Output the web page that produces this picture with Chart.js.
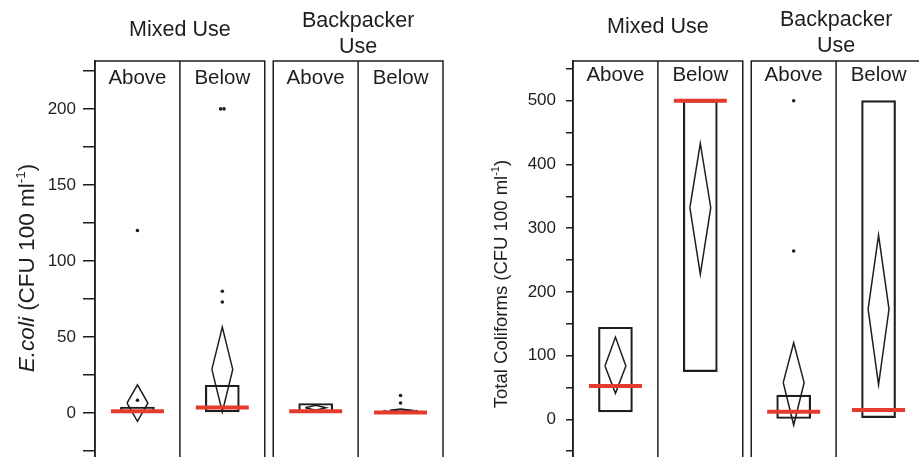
<!DOCTYPE html>
<html>
<head>
<meta charset="utf-8">
<script src="https://cdn.jsdelivr.net/npm/chart.js@4.4.1/dist/chart.umd.min.js"></script>
<style>
    html, body { margin: 0; padding: 0; background: #fff; overflow: hidden; width: 919px; height: 457px; }
    .wrap { position: absolute; top: 0; height: 457px; }
</style>
</head>
<body>
<div class="wrap" style="left:0;width:460px"><canvas id="ecoliChart"></canvas></div>
<div class="wrap" style="left:460px;width:461px"><canvas id="coliformChart"></canvas></div>
<script>
var groupLabels = [["Mixed Use"], ["Backpacker", "Use"]];
var sites = ["Above", "Below", "Above", "Below"];

// E. coli (CFU 100 ml-1)
var ecoliQ1 = [0, 0.7, 0, 1.5];
var ecoliQ3 = [3.9, 18.2, 6.2, 1.8];
var ecoliMedian = [1.1, 3.5, 1.1, 0.3];
var ecoliMean = [6.5, 28.6, 3.4, 1.8];
var ecoliLower = [-5.5, 0.7, 1.7, 0.9];
var ecoliUpper = [18.5, 56.5, 5.1, 2.6];
var ecoliOutliers = [[120, 8.3], [200, 200, 80, 73], [], [11.5, 6.5]];

// Total coliforms (CFU 100 ml-1)
var tcQ1 = [11.5, 74.7, 0, 2.5];
var tcQ3 = [144.4, 500, 38, 500];
var tcMedian = [52.3, 500, 12, 14.6];
var tcMean = [83.7, 332, 57.5, 173];
var tcLower = [40.8, 227.6, -9, 54];
var tcUpper = [129, 433, 120, 289];
var tcOutliers = [[], [], [500, 264], []];

var INK = '#1e1e1e';
var RED = '#e53b2c';
var FONT = '"Liberation Sans", Arial, Helvetica, sans-serif';
var GAP = 0.1;          // space between the two site groups, in slot units
var DIAMOND_HW = 0.123; // diamond half width, in slot units

function slotLeft(i) { return i + (i >= 2 ? GAP : 0); }
function slotCenter(i) { return slotLeft(i) + 0.5; }

function outlierPoints(lists) {
    var pts = [];
    lists.forEach(function(vals, i) {
        vals.forEach(function(v, j) {
            var dup = vals.filter(function(w) { return w === v; }).length;
            var k = vals.slice(0, j).filter(function(w) { return w === v; }).length;
            var off = dup > 1 ? (k - (dup - 1) / 2) * 0.04 : 0;
            pts.push({x: slotCenter(i) + off, y: v});
        });
    });
    return pts;
}

function drawYTitle(ctx, parts, cx, cy, size) {
    ctx.save();
    ctx.translate(cx, cy);
    ctx.rotate(-Math.PI / 2);
    var fonts = parts.map(function(p) {
        return (p.italic ? 'italic ' : '') + (p.sup ? size * 0.6 : size) + 'px ' + FONT;
    });
    var widths = parts.map(function(p, i) { ctx.font = fonts[i]; return ctx.measureText(p.text).width; });
    var total = widths.reduce(function(a, b) { return a + b; }, 0);
    var x = -total / 2;
    var base = size * 0.36;
    ctx.fillStyle = INK;
    ctx.textAlign = 'left';
    ctx.textBaseline = 'alphabetic';
    parts.forEach(function(p, i) {
        ctx.font = fonts[i];
        ctx.fillText(p.text, x, p.sup ? base - size * 0.42 : base);
        x += widths[i];
    });
    ctx.restore();
}

var panelPlugin = {
    id: 'panels',
    beforeDatasetsDraw: function(chart, args, o) {
        var ctx = chart.ctx, xs = chart.scales.x, top = chart.chartArea.top;
        ctx.save();
        ctx.strokeStyle = INK;
        ctx.lineWidth = 1.5;
        [0, 2].forEach(function(s) {
            var l = xs.getPixelForValue(slotLeft(s));
            var m = xs.getPixelForValue(slotLeft(s) + 1);
            var r = xs.getPixelForValue(slotLeft(s) + 2);
            ctx.strokeRect(l, top, r - l, chart.height + 10 - top);
            ctx.beginPath();
            ctx.moveTo(m, top);
            ctx.lineTo(m, chart.height + 10);
            ctx.stroke();
        });
        ctx.restore();
    },
    afterDraw: function(chart, args, o) {
        var ctx = chart.ctx, xs = chart.scales.x;
        ctx.save();
        ctx.fillStyle = INK;
        ctx.textAlign = 'center';
        ctx.textBaseline = 'middle';
        ctx.font = '21.5px ' + FONT;
        groupLabels.forEach(function(lines, g) {
            var cx = xs.getPixelForValue(slotLeft(g * 2) + 1);
            lines.forEach(function(t, k) {
                ctx.fillText(t, cx, o.headerY[g][k]);
            });
        });
        ctx.font = '20.5px ' + FONT;
        sites.forEach(function(s, i) {
            ctx.fillText(s, xs.getPixelForValue(slotCenter(i)), o.siteY);
        });
        ctx.restore();
        drawYTitle(ctx, o.title, o.titleX, o.titleY, o.titleSize);
    }
};

function buildChart(id, d) {
    var datasets = [];
    datasets.push({
        type: 'scatter',
        data: outlierPoints(d.outliers),
        pointRadius: 1.8,
        pointBackgroundColor: INK,
        pointBorderWidth: 0,
        order: 0
    });
    datasets.push({
        type: 'scatter',
        data: d.median.map(function(v, i) { return {x: slotCenter(i), y: v}; }),
        pointStyle: 'line',
        pointRadius: 26.5,
        pointBorderColor: RED,
        pointBorderWidth: 4,
        order: 1
    });
    d.mean.forEach(function(m, i) {
        var c = slotCenter(i);
        datasets.push({
            type: 'line',
            data: [
                {x: c - DIAMOND_HW, y: m},
                {x: c, y: d.upper[i]},
                {x: c + DIAMOND_HW, y: m},
                {x: c, y: d.lower[i]},
                {x: c - DIAMOND_HW, y: m}
            ],
            borderColor: INK,
            borderWidth: 1.5,
            pointRadius: 0,
            tension: 0,
            fill: false,
            order: 2
        });
    });
    datasets.push({
        type: 'bar',
        data: d.q1.map(function(v, i) { return {x: slotCenter(i), y: [v, d.q3[i]]}; }),
        barThickness: 34,
        backgroundColor: 'rgba(0,0,0,0)',
        borderColor: INK,
        borderWidth: 1.5,
        borderSkipped: false,
        grouped: false,
        order: 3
    });

    var ctx = document.getElementById(id).getContext('2d');
    new Chart(ctx, {
        type: 'scatter',
        data: {datasets: datasets},
        options: {
            responsive: true,
            maintainAspectRatio: false,
            animation: false,
            events: [],
            layout: {autoPadding: false, padding: {top: 61, right: d.padRight, bottom: 0, left: 0}},
            plugins: {
                legend: {display: false},
                tooltip: {enabled: false},
                panels: {
                    headerY: d.headerY,
                    siteY: d.siteY,
                    title: d.title,
                    titleX: d.titleX,
                    titleY: d.titleY,
                    titleSize: d.titleSize
                }
            },
            scales: {
                x: {
                    type: 'linear',
                    display: false,
                    offset: false,
                    min: 0,
                    max: 4 + GAP
                },
                y: {
                    type: 'linear',
                    min: d.yMin,
                    max: d.yMax,
                    beginAtZero: false,
                    afterFit: function(scale) {
                        scale.width = d.axisWidth;
                        scale.paddingTop = 0;
                        scale.paddingBottom = 0;
                    },
                    border: {display: true, color: INK, width: 1.5},
                    grid: {
                        drawOnChartArea: false,
                        drawTicks: true,
                        tickLength: d.tickLength,
                        color: INK,
                        lineWidth: 1.5
                    },
                    ticks: {
                        stepSize: d.step,
                        includeBounds: false,
                        autoSkip: false,
                        padding: d.tickPad,
                        color: INK,
                        font: {family: FONT, size: 17},
                        callback: function(v) { return v % d.labelEvery === 0 ? v : ''; }
                    }
                }
            }
        },
        plugins: [panelPlugin]
    });
}

buildChart('ecoliChart', {
    q1: ecoliQ1, q3: ecoliQ3, median: ecoliMedian,
    mean: ecoliMean, lower: ecoliLower, upper: ecoliUpper,
    outliers: ecoliOutliers,
    yMin: -29, yMax: 231.5, step: 25, labelEvery: 50,
    axisWidth: 95, padRight: 17, tickLength: 12, tickPad: 7,
    headerY: [[30], [21.5, 47]], siteY: 78,
    title: [{text: 'E.coli', italic: true}, {text: ' (CFU 100 ml'}, {text: '-1', sup: true}, {text: ')'}],
    titleX: 26, titleY: 268, titleSize: 22.5
});

buildChart('coliformChart', {
    q1: tcQ1, q3: tcQ3, median: tcMedian,
    mean: tcMean, lower: tcLower, upper: tcUpper,
    outliers: tcOutliers,
    yMin: -59.2, yMax: 562.3, step: 50, labelEvery: 100,
    axisWidth: 113, padRight: 0, tickLength: 7, tickPad: 10,
    headerY: [[27.5], [19.7, 45.8]], siteY: 75,
    title: [{text: 'Total Coliforms (CFU 100 ml'}, {text: '-1', sup: true}, {text: ')'}],
    titleX: 40, titleY: 284, titleSize: 18.5
});
</script>
</body>
</html>
